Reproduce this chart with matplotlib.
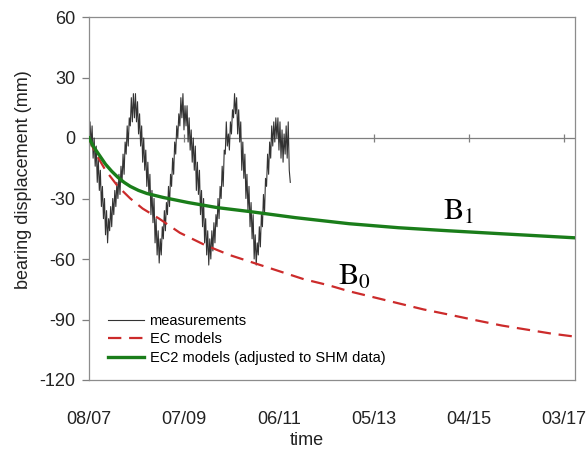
import numpy as np
import matplotlib
matplotlib.use("Agg")
import matplotlib.pyplot as plt

plt.rcParams['font.family'] = ['Liberation Sans', 'DejaVu Sans']
plt.rcParams['mathtext.fontset'] = 'stix'
plt.rcParams['axes.unicode_minus'] = False

# time axis in months since Aug 2007
tick_pos = [0, 23, 46, 69, 92, 115]
tick_labels = ['08/07', '07/09', '06/11', '05/13', '04/15', '03/17']

meas_step = 0.25
meas = [
    0, 8, -4, 6,
    -10, 0, -14, -4,
    -22, -10, -26, -16,
    -34, -24, -40, -30,
    -48, -36, -52, -40,
    -46, -34, -44, -30,
    -38, -26, -34, -22,
    -30, -18, -28, -14,
    -22, -8, -18, -2,
    -8, 6, -4, 10,
    6, 20, 8, 22,
    10, 22, 8, 18,
    2, 12, -4, 6,
    -12, 0, -16, -6,
    -24, -12, -28, -18,
    -38, -26, -42, -30,
    -52, -40, -58, -46,
    -62, -50, -58, -44,
    -50, -36, -46, -32,
    -38, -24, -34, -18,
    -24, -10, -18, -2,
    -8, 6, 0, 12,
    6, 20, 10, 22,
    4, 16, 6, 16,
    -2, 10, -6, 4,
    -12, 0, -16, -4,
    -26, -12, -28, -16,
    -38, -26, -44, -30,
    -52, -40, -58, -46,
    -63, -50, -60, -46,
    -56, -42, -52, -38,
    -44, -30, -40, -24,
    -30, -14, -24, -6,
    -8, 8, -4, 2,
    -6, 8, 2, 14,
    10, 22, 12, 20,
    2, 14, -2, 8,
    -16, -2, -20, -8,
    -30, -18, -36, -24,
    -44, -32, -50, -38,
    -60, -48, -63, -52,
    -58, -44, -54, -38,
    -44, -28, -38, -20,
    -24, -8, -18, -2,
    -10, 6, -4, 8,
    -2, 10, 0, 10,
    -6, 8, -10, 4,
    -12, 2, -8, 6,
    -10, 8, -16, -22,
]
meas_t = np.arange(len(meas)) * meas_step

# EC models (red dashed)
ec_t = [0, 1, 2, 4, 7, 10, 13, 17, 22, 28, 34, 40, 46, 52, 58, 63, 69, 75, 81, 87, 94, 100, 106, 112, 117.7]
ec_y = [0, -5, -9, -16, -24, -30, -35, -40, -47, -53, -58, -62, -66, -70, -73, -76, -79, -82, -85, -87.5, -90.5, -93, -95, -97, -98.5]

# EC2 models adjusted to SHM data (green)
ec2_t = [0, 1, 2, 3, 4, 5.5, 7, 8.5, 10, 12, 14, 18, 24, 31, 39, 50, 63, 75, 87, 100, 117.7]
ec2_y = [0, -4, -7, -10, -13, -16.5, -19.5, -22, -24, -26, -27.5, -29.5, -32, -34.5, -36.5, -39.5, -42.5, -44.5, -46, -47.5, -49.5]

fig = plt.figure(figsize=(5.88, 4.5), dpi=100)
ax = fig.add_axes([89/588, 1 - 380/450, 486/588, 363/450])

ax.plot(meas_t, meas, color='#333333', lw=0.8, label='measurements', zorder=2)
ax.plot(ec_t, ec_y, color='#cc2b2b', lw=1.6, ls=(0, (6, 3.5)), label='EC models', zorder=3)
ax.plot(ec2_t, ec2_y, color='#1a7d1a', lw=2.4, label='EC2 models (adjusted to SHM data)', zorder=4)

# zero axis line with cross ticks
ax.axhline(0, color='#7f7f7f', lw=0.9, zorder=1)
ax.plot(tick_pos, [0] * len(tick_pos), ls='none', marker='|', ms=6, mew=0.9, color='#7f7f7f', zorder=1)

ax.text(85.7, -40.7, r'$\mathrm{B}_1$', fontsize=22, ha='left', va='baseline')
ax.text(60.3, -72.9, r'$\mathrm{B}_0$', fontsize=22, ha='left', va='baseline')

ax.set_xlim(0, 117.7)
ax.set_ylim(-120, 60)
ax.set_yticks([60, 30, 0, -30, -60, -90, -120])
ax.set_xticks(tick_pos)
ax.set_xticklabels(tick_labels)
ax.tick_params(axis='x', length=0, pad=22, labelsize=13, colors='#222222')
ax.tick_params(axis='y', length=5, width=0.9, pad=5, labelsize=13, colors='#7f7f7f', labelcolor='#222222')
for s in ax.spines.values():
    s.set_color('#8c8c8c')
    s.set_linewidth(0.9)

ax.set_xlabel('time', fontsize=13, color='#222222')
ax.set_ylabel('bearing displacement (mm)', fontsize=13, color='#222222')
ax.xaxis.set_label_coords(0.449, -0.143)
ax.yaxis.set_label_coords(-0.117, 0.551)

ax.legend(loc='upper left', bbox_to_anchor=(0.039, 0.182), frameon=False, fontsize=10.5,
          handlelength=2.5, handletextpad=0.35, labelspacing=0.3, borderpad=0, borderaxespad=0)

fig.savefig('out.png', dpi=100)
